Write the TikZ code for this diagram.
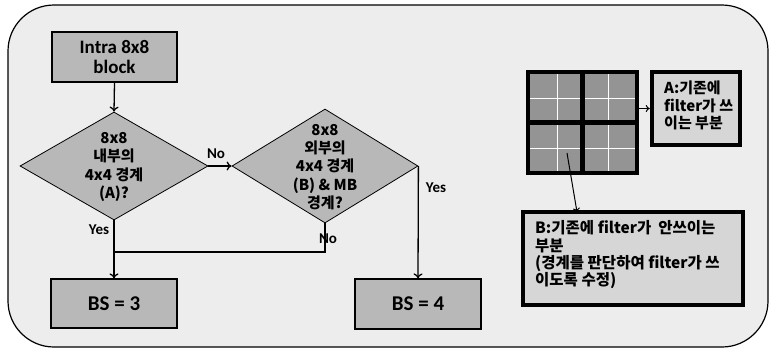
\documentclass[tikz,border=0pt]{standalone}
\usepackage{fontspec}
\usetikzlibrary{shapes.geometric,arrows.meta}
\newfontfamily\krfont{Noto Sans CJK KR}
\newfontfamily\calfont{Carlito}
\definecolor{framebg}{gray}{0.93}
\definecolor{boxfill}{gray}{0.72}
\definecolor{cellfill}{gray}{0.58}
\definecolor{notefill}{gray}{0.84}
\tikzset{
  flowbox/.style={draw=black,line width=1.2pt,fill=boxfill,rectangle,inner sep=0pt,
     font=\calfont\bfseries\fontsize{19}{20}\selectfont,align=center},
  decbox/.style={draw=black,line width=0.8pt,fill=boxfill,diamond,inner sep=0pt},
  dectext/.style={font=\krfont\bfseries\fontsize{15}{18.3}\selectfont,align=center,inner sep=0pt},
  notebox/.style={draw=black,line width=4.5pt,fill=notefill,rectangle,inner sep=0pt},
  notetext/.style={font=\krfont\bfseries\fontsize{15}{17.5}\selectfont,align=left,inner sep=0pt,anchor=north west},
  flowline/.style={line width=1.3pt,draw=black},
  arr/.style={flowline,-{To[length=5pt,width=9pt]}},
  lbl/.style={font=\calfont\bfseries\fontsize{15}{16}\selectfont,inner sep=0pt}
}
\begin{document}
\begin{tikzpicture}[x=1pt,y=-1pt]
\useasboundingbox (0,0) rectangle (770,349);
% frame
\draw[fill=framebg,line width=1.2pt,rounded corners=46pt] (8,5) rectangle (768,347);

% flowchart nodes
\node[flowbox,minimum width=125pt,minimum height=50pt] (intra) at (114.5,57) {Intra 8x8\\block};
\node[decbox,minimum width=188pt,minimum height=108pt] (d1) at (114,166) {};
\node[dectext] (d1t) at (114,167) {8x8\\내부의\\4x4 경계\\(A)?};
\node[decbox,minimum width=186pt,minimum height=114pt] (d2) at (325,166) {};
\node[dectext] (d2t) at (325,167) {8x8\\외부의\\4x4 경계\\(B) \& MB\\경계?};
\node[flowbox,minimum width=126pt,minimum height=49pt,font=\calfont\bfseries\fontsize{21}{22}\selectfont] (bs3) at (114,303.5) {BS = 3};
\node[flowbox,minimum width=126pt,minimum height=50pt,font=\calfont\bfseries\fontsize{21}{22}\selectfont] (bs4) at (418,304) {BS = 4};
\coordinate (join) at (114,252);

% connectors
\draw[arr] (intra.south) -- (d1.north);
\draw[arr] (d1.east) -- (d2.west);
\draw[arr] (d1.south) -- (bs3.north);
\draw[flowline] (d2.south) |- (join);
\draw[arr] (d2.east) -- (bs4.north);

% labels
\node[lbl] (lno1) at (216,154) {No};
\node[lbl] (lyes1) at (99,230) {Yes};
\node[lbl] (lno2) at (328,239) {No};
\node[lbl] (lyes2) at (436,188) {Yes};

% grid
\node[draw=black,line width=4.5pt,fill=cellfill,rectangle,inner sep=0pt,minimum width=109pt,minimum height=101pt] (grid) at (582.5,122.5) {};
\draw[white,line width=0.8pt] (557,74) -- (557,171) (608,74) -- (608,171) (530,98) -- (635,98) (530,148) -- (635,148);
\draw[black,line width=4.5pt] (grid.north) -- (grid.south) (grid.west) -- (grid.east);

% note boxes
\node[notebox,minimum width=88pt,minimum height=73pt] (A) at (696,108.5) {};
\node[notetext] (At) at (664,81) {A:기존에\\filter가 쓰\\이는 부분};
\node[notebox,minimum width=220pt,minimum height=93pt] (B) at (633,258.5) {};
\node[notetext,font=\krfont\bfseries\fontsize{15.5}{17.3}\selectfont] (Bt) at (535,220.5) {B:기존에 filter가 \ 안쓰이는\\부분\\(경계를 판단하여 filter가 쓰\\이도록 수정)};

\coordinate (gs) at (567,153);
\coordinate (bt) at (577,212);
\draw[line width=1pt,-{To[length=4pt,width=7pt]}] (grid.east |- A.west) -- (A.west);
\draw[line width=1pt,-{To[length=4pt,width=7pt]}] (gs) -- (bt);
\end{tikzpicture}
\end{document}
